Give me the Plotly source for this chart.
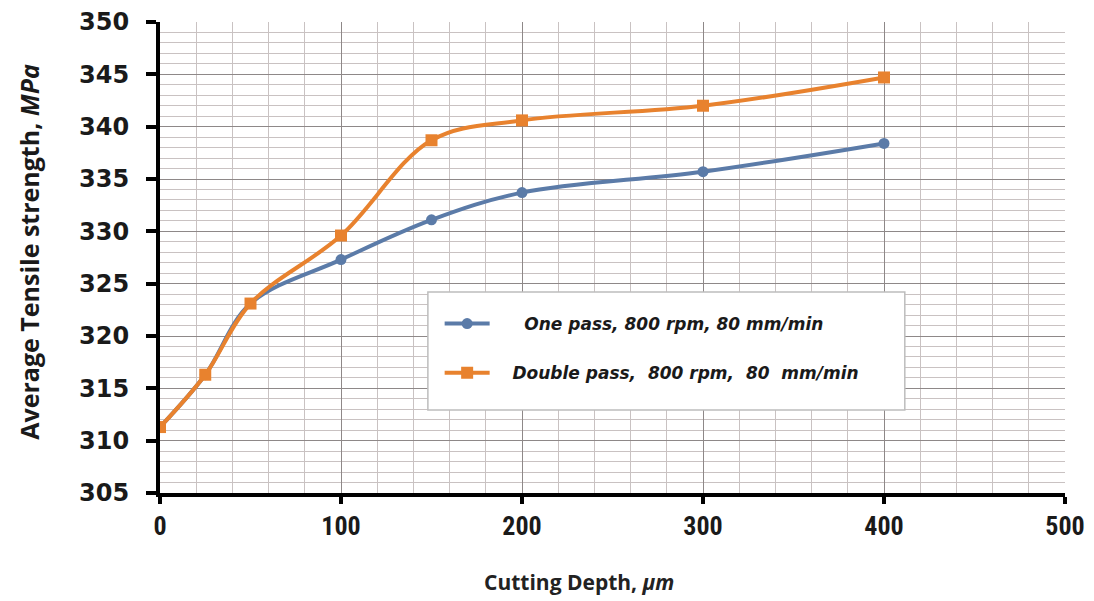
import plotly.graph_objects as go

depth = [0, 25, 50, 100, 150, 200, 300, 400]
one_pass = [311.3, 316.3, 323.1, 327.3, 331.1, 333.7, 335.7, 338.4]
double_pass = [311.3, 316.3, 323.1, 329.6, 338.7, 340.6, 342.0, 344.7]

x_ticks = [0, 100, 200, 300, 400, 500]
y_ticks = [305, 310, 315, 320, 325, 330, 335, 340, 345, 350]

blue = "#5B7BA8"
orange = "#E8822E"

fig = go.Figure()
fig.add_trace(go.Scatter(
    x=depth, y=one_pass, mode="lines+markers", line_shape="spline",
    line=dict(color=blue, width=4), marker=dict(symbol="circle", size=11, color=blue),
    name="<b><i>\u00a0\u00a0\u00a0\u00a0\u00a0One pass, 800 rpm, 80 mm/min</i></b>",
    legendgroup="a"))
fig.add_trace(go.Scatter(
    x=depth, y=double_pass, mode="lines+markers", line_shape="spline",
    line=dict(color=orange, width=4), marker=dict(symbol="square", size=12, color=orange),
    name="<b><i>\u00a0\u00a0\u00a0Double pass,  800 rpm,  80  mm/min</i></b>",
    legendgroup="b"))

narrow = "Liberation Sans Narrow, Roboto Condensed, Arial Narrow, sans-serif"

# page has an 8px body margin, so the figure is 8px smaller than the window
fig.update_layout(
    width=1086, height=593,
    margin=dict(l=152, r=29, t=14, b=108, autoexpand=False),
    plot_bgcolor="white", paper_bgcolor="white",
    legend=dict(
        x=0.309, y=0.397, xanchor="left", yanchor="top",
        bgcolor="rgba(0,0,0,0)", borderwidth=0,
        font=dict(family="DejaVu Sans, Verdana, sans-serif", size=17, color="#1a1a1a"),
        tracegroupgap=24, traceorder="grouped", itemwidth=45,
    ),
    shapes=[dict(type="rect", xref="paper", yref="paper",
                 x0=0.296, x1=0.823, y0=0.176, y1=0.427,
                 fillcolor="white", line=dict(color="#BDBDBD", width=1.5), layer="above")],
    annotations=[
        dict(text="<b>Average Tensile strength, <i>MPa</i></b>", textangle=-90,
             xref="paper", yref="paper", x=-0.1448, y=0.512, showarrow=False,
             xanchor="center", yanchor="middle",
             font=dict(family="Open Sans, sans-serif", size=25, color="#1a1a1a")),
        dict(text="<b>Cutting Depth, <i>\u03bcm</i></b>",
             xref="paper", yref="paper", x=0.463, y=-0.189, showarrow=False,
             xanchor="center", yanchor="middle",
             font=dict(family="Open Sans, sans-serif", size=21, color="#222222")),
    ],
    xaxis=dict(
        range=[0, 500], tickvals=x_ticks, ticktext=[str(v) for v in x_ticks],
        showgrid=True, gridcolor="#8E8888", gridwidth=1.2,
        minor=dict(dtick=20, showgrid=True, gridcolor="#C9C2C2", gridwidth=1),
        showline=True, linecolor="black", linewidth=4,
        ticks="outside", ticklen=7, tickwidth=4, tickcolor="black",
        tickfont=dict(family=narrow, size=26, color="#1a1a1a", weight="bold"),
        zeroline=False, automargin=False,
    ),
    yaxis=dict(
        range=[305, 350], tickvals=y_ticks, ticktext=[str(v) for v in y_ticks],
        showgrid=True, gridcolor="#8E8888", gridwidth=1.2,
        minor=dict(dtick=1, showgrid=True, gridcolor="#C9C2C2", gridwidth=1),
        showline=True, linecolor="black", linewidth=4,
        ticks="outside", ticklen=10, tickwidth=4, tickcolor="black",
        ticklabelstandoff=12,
        tickfont=dict(family="DejaVu Sans, Verdana, sans-serif", size=24, color="#1a1a1a", weight="bold"),
        zeroline=False, automargin=False,
    ),
)

fig.write_html("out.html")
